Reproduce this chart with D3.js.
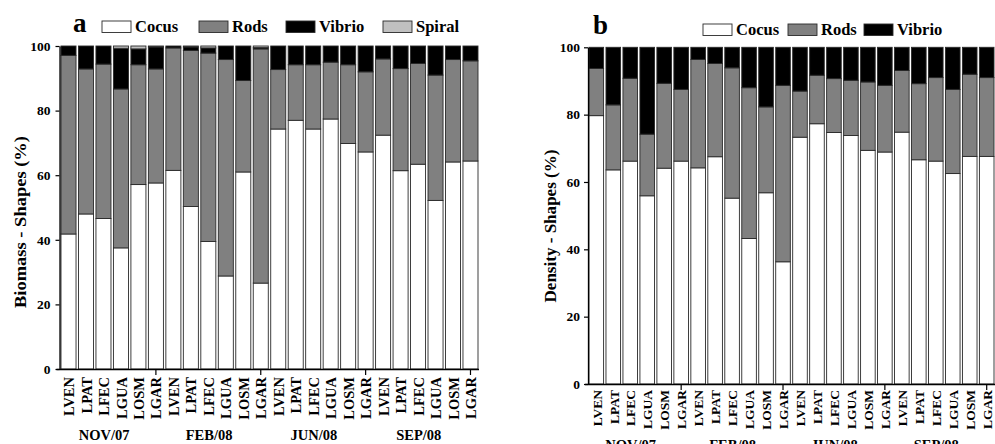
<!DOCTYPE html>
<html>
<head>
<meta charset="utf-8">
<script src="https://cdn.jsdelivr.net/npm/d3@7"></script>
<style>
  html, body { margin: 0; padding: 0; background: #fff; }
  svg { display: block; }
  text { font-family: "Liberation Serif", "Times New Roman", serif; font-weight: bold; fill: #000; }
</style>
</head>
<body>
<svg id="chart" width="995" height="444"></svg>
<script>
// ---------- data ----------
const sites = ["LVEN", "LPAT", "LFEC", "LGUA", "LOSM", "LGAR"];
const periods = ["NOV/07", "FEB/08", "JUN/08", "SEP/08"];
const yTicks = [0, 20, 40, 60, 80, 100];

// Panel a: Biomass - Shapes (%)
const biomassCocus  = [41.8, 48.0, 46.6, 37.5, 57.1, 57.6, 61.5, 50.3, 39.5, 28.8, 61.0, 26.6, 74.3, 77.0, 74.3, 77.4, 69.8, 67.2, 72.4, 61.4, 63.4, 52.2, 64.1, 64.4];
const biomassRods   = [55.3, 44.9, 47.8, 49.2, 37.1, 35.3, 37.9, 48.3, 58.3, 67.0, 28.3, 72.5, 18.4, 17.2, 19.9, 17.6, 24.4, 24.8, 23.6, 31.6, 31.2, 38.8, 31.7, 31.0];
const biomassVibrio = [2.9, 7.1, 5.6, 12.6, 4.9, 6.8, 0.6, 1.1, 1.6, 4.2, 10.7, 0.4, 7.3, 5.8, 5.8, 5.0, 5.8, 8.0, 4.0, 7.0, 5.4, 9.0, 4.2, 4.6];
const biomassSpiral = [0, 0, 0, 0.7, 0.9, 0.3, 0, 0.3, 0.6, 0, 0, 0.5, 0, 0, 0, 0, 0, 0, 0, 0, 0, 0, 0, 0];

// Panel b: Density - Shapes (%)
const densityCocus  = [79.7, 63.6, 66.2, 55.9, 64.1, 66.2, 64.2, 67.5, 55.2, 43.2, 56.8, 36.3, 73.3, 77.3, 74.7, 73.8, 69.4, 68.9, 74.8, 66.6, 66.2, 62.5, 67.6, 67.6];
const densityRods   = [14.0, 19.3, 24.6, 18.3, 25.2, 21.3, 32.2, 27.7, 38.7, 44.8, 25.5, 52.4, 13.7, 14.4, 16.0, 16.4, 20.3, 19.8, 18.3, 22.6, 24.8, 25.0, 24.4, 23.4];
const densityVibrio = [6.3, 17.1, 9.2, 25.8, 10.7, 12.5, 3.6, 4.8, 6.1, 12.0, 17.7, 11.3, 13.0, 8.3, 9.3, 9.8, 10.3, 11.3, 6.9, 10.8, 9.0, 12.5, 8.0, 9.0];

const colors = { Cocus: "#ffffff", Rods: "#808080", Vibrio: "#000000", Spiral: "#c0c0c0" };

// ---------- drawing ----------
const svg = d3.select("#chart");
svg.append("rect").attr("width", 995).attr("height", 444).attr("fill", "#fff");

const categories = [];
periods.forEach(p => sites.forEach(s => categories.push({ key: p + "-" + s, site: s, period: p })));

function drawPanel(cfg) {
  const g = svg.append("g");
  const rows = categories.map((c, i) => {
    const r = { key: c.key };
    cfg.series.forEach(s => { r[s.name] = s.values[i]; });
    return r;
  });
  const names = cfg.series.map(s => s.name);
  const stacked = d3.stack().keys(names)(rows);

  const x = d3.scaleBand().domain(categories.map(c => c.key))
    .range([cfg.x0, cfg.x1]).paddingInner(cfg.padding).paddingOuter(0);
  const y = d3.scaleLinear().domain([0, 100]).range([cfg.yBottom, cfg.yTop]);

  // bars
  g.selectAll("g.layer").data(stacked).join("g").attr("class", "layer")
    .attr("fill", d => colors[d.key])
    .selectAll("rect").data(d => d.filter(v => v[1] - v[0] > 0)).join("rect")
    .attr("x", d => x(d.data.key))
    .attr("width", x.bandwidth())
    .attr("y", d => y(d[1]))
    .attr("height", d => y(d[0]) - y(d[1]))
    .attr("stroke", "#2a2a2a")
    .attr("stroke-width", 0.9);

  // y axis
  const ya = g.append("g").attr("transform", `translate(${cfg.axisX},0)`)
    .call(d3.axisLeft(y).tickValues(yTicks).tickSize(4).tickSizeOuter(0).tickPadding(cfg.tickPad));
  ya.select(".domain").attr("stroke", "#000").attr("stroke-width", 1.3);
  ya.selectAll(".tick line").attr("stroke", "#000").attr("stroke-width", 1.2);
  ya.selectAll(".tick text").attr("font-size", 13.5).attr("font-family", "Liberation Serif, serif").attr("font-weight", "bold").attr("fill", "#000");

  // x axis line
  g.append("line").attr("x1", cfg.axisX - 3).attr("x2", cfg.x1 + 1)
    .attr("y1", cfg.yBottom + 0.5).attr("y2", cfg.yBottom + 0.5)
    .attr("stroke", "#000").attr("stroke-width", 1.3);
  // group ticks (at last bar of each period)
  periods.forEach(p => {
    const cx = x(p + "-" + sites[sites.length - 1]) + x.bandwidth() / 2;
    g.append("line").attr("x1", cx).attr("x2", cx)
      .attr("y1", cfg.yBottom).attr("y2", cfg.yBottom + 6)
      .attr("stroke", "#000").attr("stroke-width", 1.2);
  });
  // category labels
  g.selectAll("text.cat").data(categories).join("text").attr("class", "cat")
    .attr("transform", d => `translate(${x(d.key) + x.bandwidth() / 2 + 0.5},${cfg.yBottom + cfg.labelGap}) rotate(-90)`)
    .attr("text-anchor", "end").attr("dy", "0.35em")
    .attr("font-size", cfg.catFont)
    .text(d => d.site);
  // period labels
  periods.forEach(p => {
    const a = x(p + "-" + sites[0]);
    const b = x(p + "-" + sites[sites.length - 1]) + x.bandwidth();
    g.append("text").attr("x", (a + b) / 2 - 8).attr("y", cfg.periodY)
      .attr("text-anchor", "middle").attr("font-size", 14.5).text(p);
  });

  // y axis title
  g.append("text")
    .attr("transform", `translate(${cfg.titleX},${cfg.titleY}) rotate(-90)`)
    .attr("text-anchor", "middle").attr("font-size", 16.5)
    .attr("textLength", cfg.titleLen).attr("lengthAdjust", "spacingAndGlyphs")
    .text(cfg.yTitle);

  // panel letter
  g.append("text").attr("x", cfg.letterX).attr("y", cfg.letterY)
    .attr("font-size", 27).text(cfg.letter);

  // legend
  cfg.series.forEach((s, i) => {
    const lx = cfg.legend[i];
    g.append("rect").attr("x", lx).attr("y", cfg.legendY).attr("width", 29).attr("height", 11.5)
      .attr("fill", colors[s.name]).attr("stroke", "#2a2a2a").attr("stroke-width", 0.9);
    g.append("text").attr("x", lx + 33).attr("y", cfg.legendY + 11)
      .attr("font-size", 16.5).text(s.name);
  });
}

drawPanel({
  letter: "a", letterX: 73, letterY: 32,
  yTitle: "Biomass - Shapes (%)", titleX: 26, titleY: 222, titleLen: 172,
  x0: 61, x1: 478, padding: 0.14, yTop: 46, yBottom: 369, axisX: 59.5, tickPad: 5,
  labelGap: 8, catFont: 14.5, periodY: 440,
  legend: [102, 199, 286, 383], legendY: 21,
  series: [
    { name: "Cocus", values: biomassCocus },
    { name: "Rods", values: biomassRods },
    { name: "Vibrio", values: biomassVibrio },
    { name: "Spiral", values: biomassSpiral }
  ]
});

drawPanel({
  letter: "b", letterX: 593, letterY: 34,
  yTitle: "Density - Shapes (%)", titleX: 556, titleY: 226, titleLen: 153,
  x0: 589, x1: 994, padding: 0.14, yTop: 47.3, yBottom: 384, axisX: 588, tickPad: 4,
  labelGap: 6, catFont: 13.5, periodY: 450,
  legend: [703, 788, 864], legendY: 24,
  series: [
    { name: "Cocus", values: densityCocus },
    { name: "Rods", values: densityRods },
    { name: "Vibrio", values: densityVibrio }
  ]
});
</script>
</body>
</html>
